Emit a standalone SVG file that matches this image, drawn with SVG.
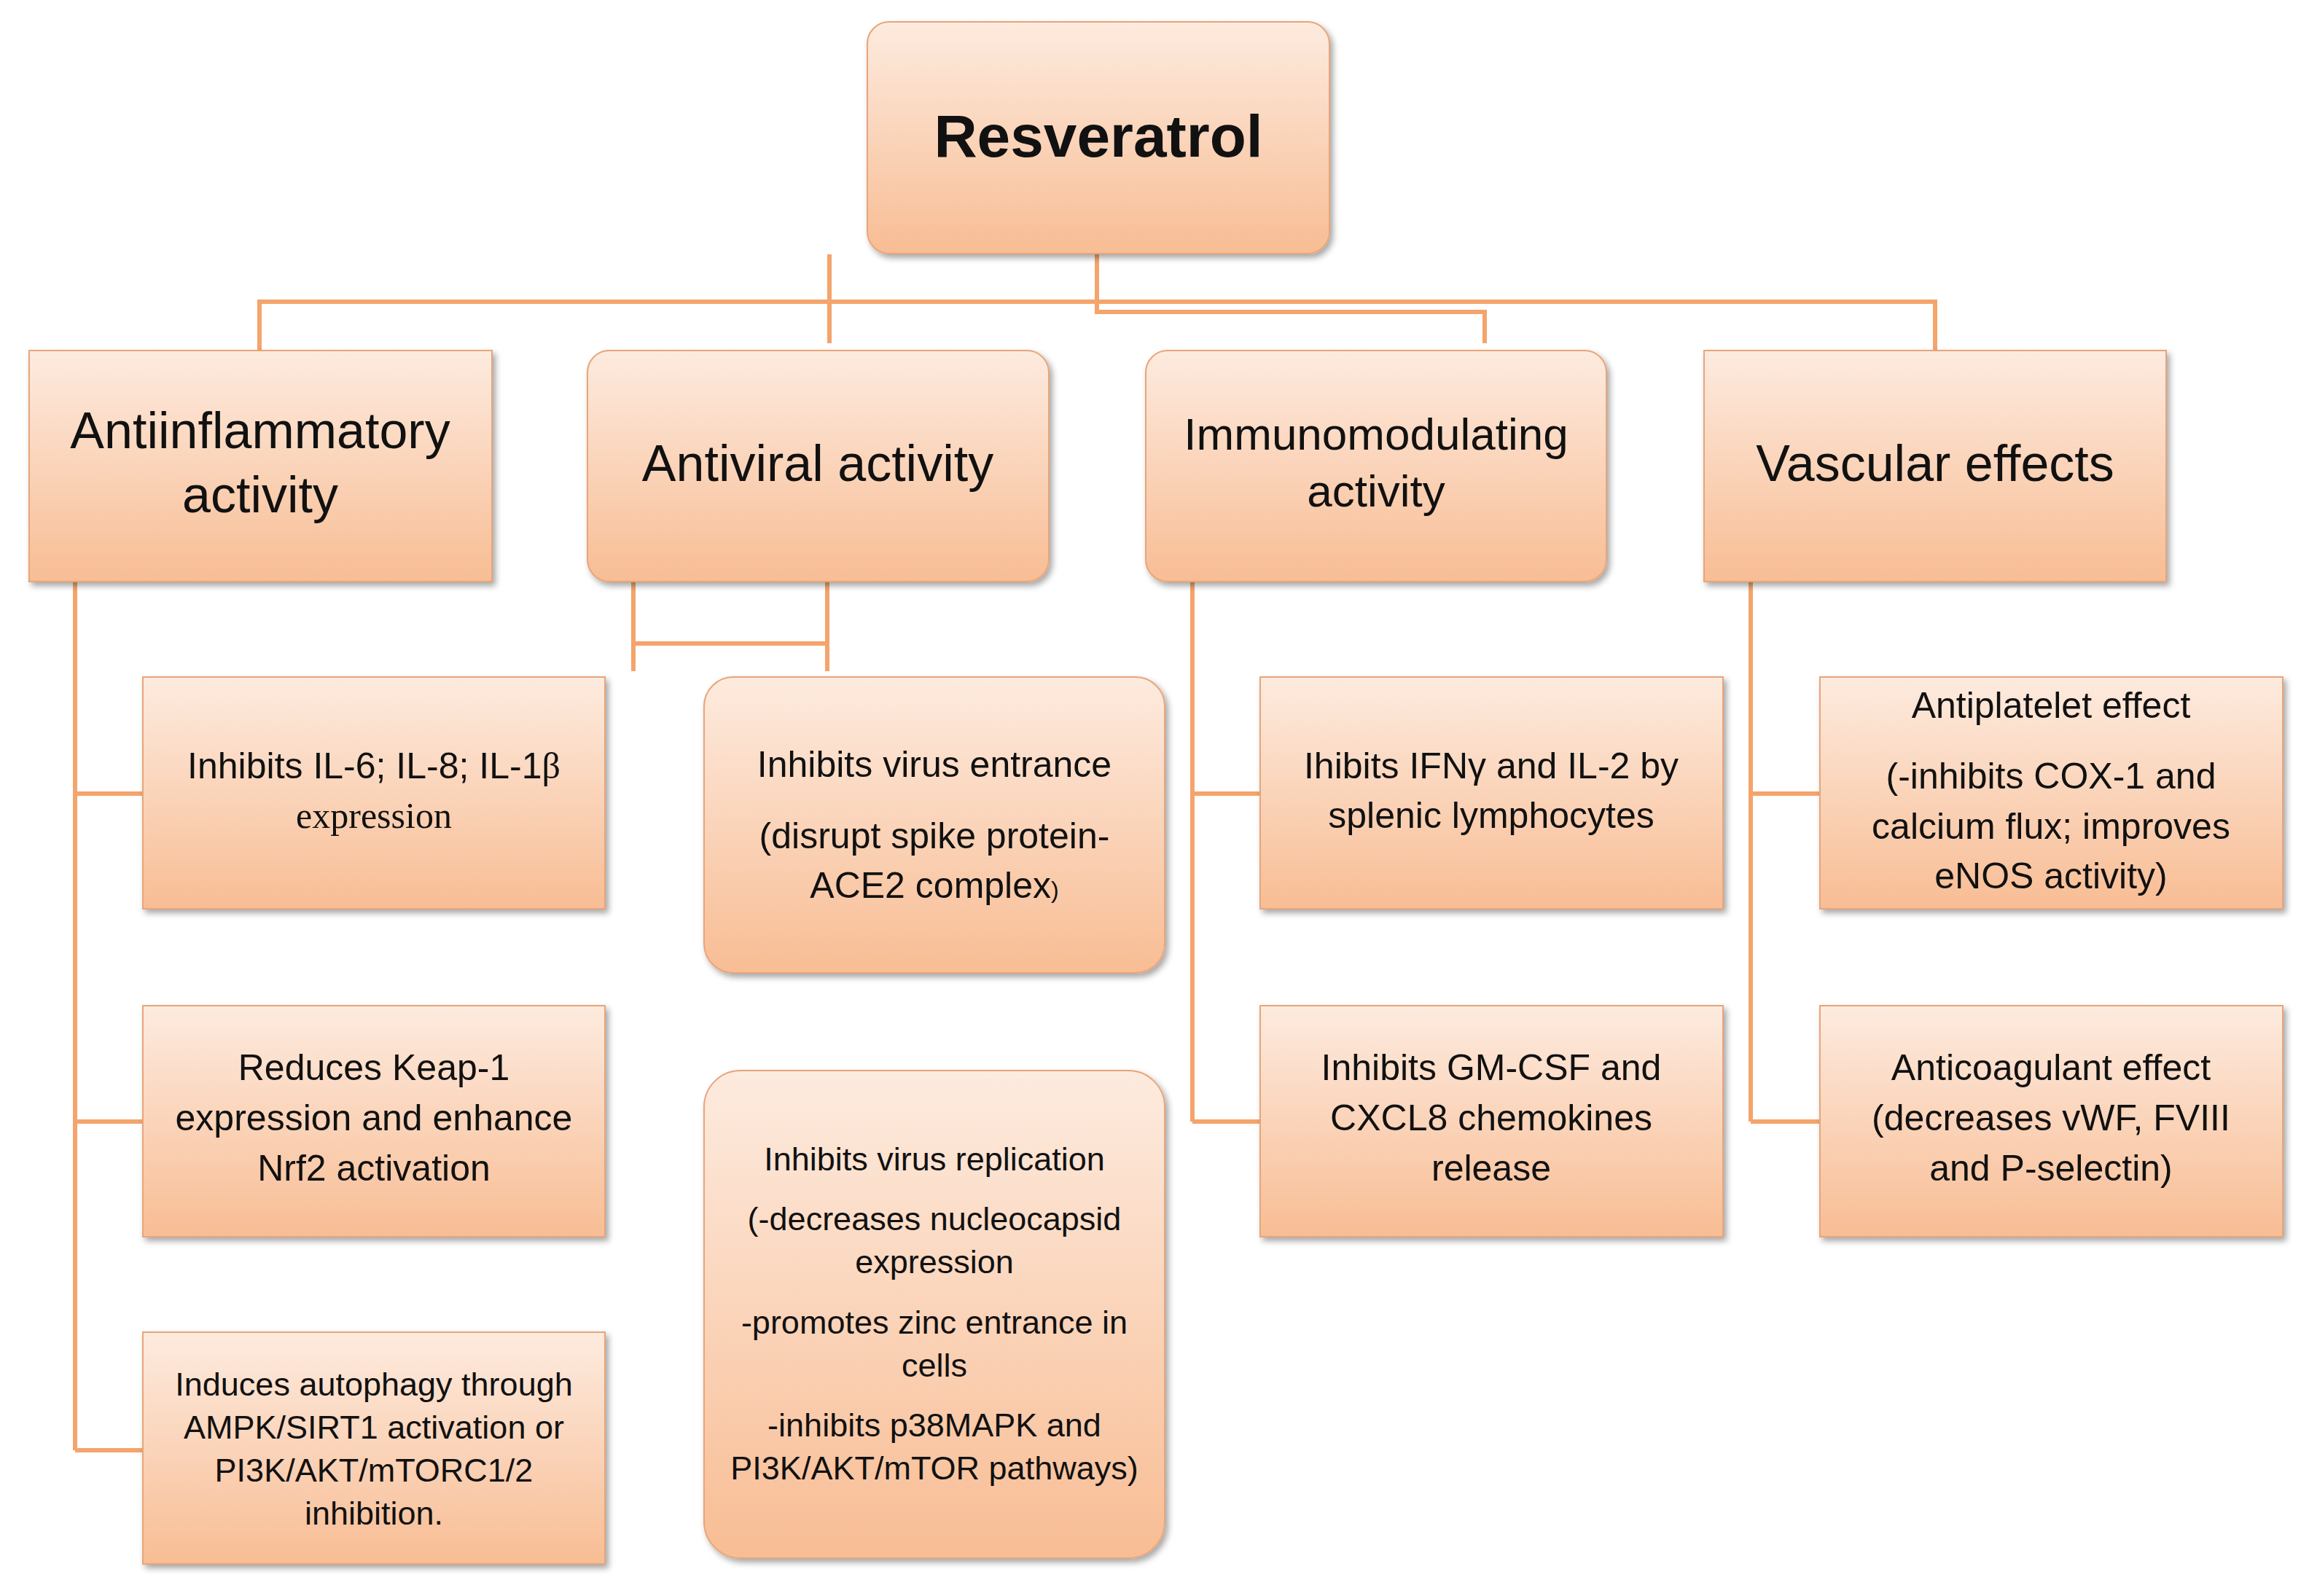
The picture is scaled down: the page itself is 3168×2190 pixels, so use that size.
<svg xmlns="http://www.w3.org/2000/svg" width="3168" height="2190" viewBox="0 0 3168 2190">
<defs>
<linearGradient id="g" x1="0" y1="0" x2="0" y2="1">
<stop offset="0" stop-color="#FDEBDF"/><stop offset="1" stop-color="#F8BD94"/>
</linearGradient>
<filter id="sh" x="-10%" y="-10%" width="130%" height="130%"><feDropShadow dx="4" dy="5" stdDeviation="4" flood-color="#000" flood-opacity="0.35"/></filter>
</defs>
<style>
.b{fill:url(#g);stroke:#E8A57A;stroke-width:2;filter:url(#sh)}
.c{stroke:#F4A46C;stroke-width:6;fill:none}
text{font-family:"Liberation Sans",Arial,sans-serif;fill:#111;text-anchor:middle}
.t0{font-size:82px;font-weight:bold}
.t1{font-size:70px}
.t2{font-size:50px}
.t3{font-size:45px}
.s{font-family:"Liberation Serif","Times New Roman",serif}
</style>
<rect width="3168" height="2190" fill="#fff"/>
<g id="connectors">
<path class="c" d="M356 481V414H2655V481M1138 349V471M1505 348V428H2037V471"/>
<path class="c" d="M869 798V921M1135 798V921M869 883H1135"/>
<path class="c" d="M103 798V1990M103 1089H196M103 1539H196M103 1990H196"/>
<path class="c" d="M1636 798V1539M1636 1089H1729M1636 1539H1729"/>
<path class="c" d="M2402 798V1539M2402 1089H2497M2402 1539H2497"/>
</g>
<g id="resveratrol"><rect class="b" x="1190" y="30" width="634" height="318" rx="30"/><text class="t0" x="1507" y="215">Resveratrol</text></g>
<g id="antiinflammatory"><rect class="b" x="40" y="481" width="635" height="317"/><text class="t1" x="357" y="615">Antiinflammatory</text><text class="t1" x="357" y="703">activity</text></g>
<g id="antiviral"><rect class="b" x="806" y="481" width="633" height="317" rx="30"/><text class="t1" x="1122" y="660">Antiviral activity</text></g>
<g id="immuno"><rect class="b" x="1572" y="481" width="632" height="317" rx="30"/><text class="t2" x="1888" y="617" style="font-size:62px">Immunomodulating</text><text class="t2" x="1888" y="695" style="font-size:62px">activity</text></g>
<g id="vascular"><rect class="b" x="2338" y="481" width="634" height="317"/><text class="t1" x="2655" y="660">Vascular effects</text></g>
<g id="il6"><rect class="b" x="196" y="929" width="634" height="318"/><text class="t2" x="513" y="1068">Inhibits IL-6; IL-8; IL-1<tspan class="s">β</tspan></text><text class="t2 s" x="513" y="1136">expression</text></g>
<g id="keap"><rect class="b" x="196" y="1380" width="634" height="317"/><text class="t2" x="513" y="1482">Reduces Keap-1</text><text class="t2" x="513" y="1551">expression and enhance</text><text class="t2" x="513" y="1620">Nrf2 activation</text></g>
<g id="autophagy"><rect class="b" x="196" y="1828" width="634" height="318"/><text class="t3" x="513" y="1915">Induces autophagy through</text><text class="t3" x="513" y="1974">AMPK/SIRT1 activation or</text><text class="t3" x="513" y="2033">PI3K/AKT/mTORC1/2</text><text class="t3" x="513" y="2092">inhibition.</text></g>
<g id="entrance"><rect class="b" x="966" y="929" width="632" height="406" rx="40"/><text class="t2" x="1282" y="1066">Inhibits virus entrance</text><text class="t2" x="1282" y="1164">(disrupt spike protein-</text><text class="t2" x="1282" y="1232">ACE2 complex<tspan style="font-size:32px">)</tspan></text></g>
<g id="replication"><rect class="b" x="966" y="1469" width="632" height="669" rx="50"/><text class="t3" x="1282" y="1606">Inhibits virus replication</text><text class="t3" x="1282" y="1688">(-decreases nucleocapsid</text><text class="t3" x="1282" y="1747">expression</text><text class="t3" x="1282" y="1830">-promotes zinc entrance in</text><text class="t3" x="1282" y="1889">cells</text><text class="t3" x="1282" y="1971">-inhibits p38MAPK and</text><text class="t3" x="1282" y="2030">PI3K/AKT/mTOR pathways)</text></g>
<g id="ifn"><rect class="b" x="1729" y="929" width="635" height="318"/><text class="t2" x="2046" y="1068">Ihibits IFNγ and IL-2 by</text><text class="t2" x="2046" y="1136">splenic lymphocytes</text></g>
<g id="gmcsf"><rect class="b" x="1729" y="1380" width="635" height="317"/><text class="t2" x="2046" y="1482">Inhibits GM-CSF and</text><text class="t2" x="2046" y="1551">CXCL8 chemokines</text><text class="t2" x="2046" y="1620">release</text></g>
<g id="antiplatelet"><rect class="b" x="2497" y="929" width="635" height="318"/><text class="t2" x="2814" y="985">Antiplatelet effect</text><text class="t2" x="2814" y="1082">(-inhibits COX-1 and</text><text class="t2" x="2814" y="1151">calcium flux; improves</text><text class="t2" x="2814" y="1219">eNOS activity)</text></g>
<g id="anticoagulant"><rect class="b" x="2497" y="1380" width="635" height="317"/><text class="t2" x="2814" y="1482">Anticoagulant effect</text><text class="t2" x="2814" y="1551">(decreases vWF, FVIII</text><text class="t2" x="2814" y="1620">and P-selectin)</text></g>
</svg>
